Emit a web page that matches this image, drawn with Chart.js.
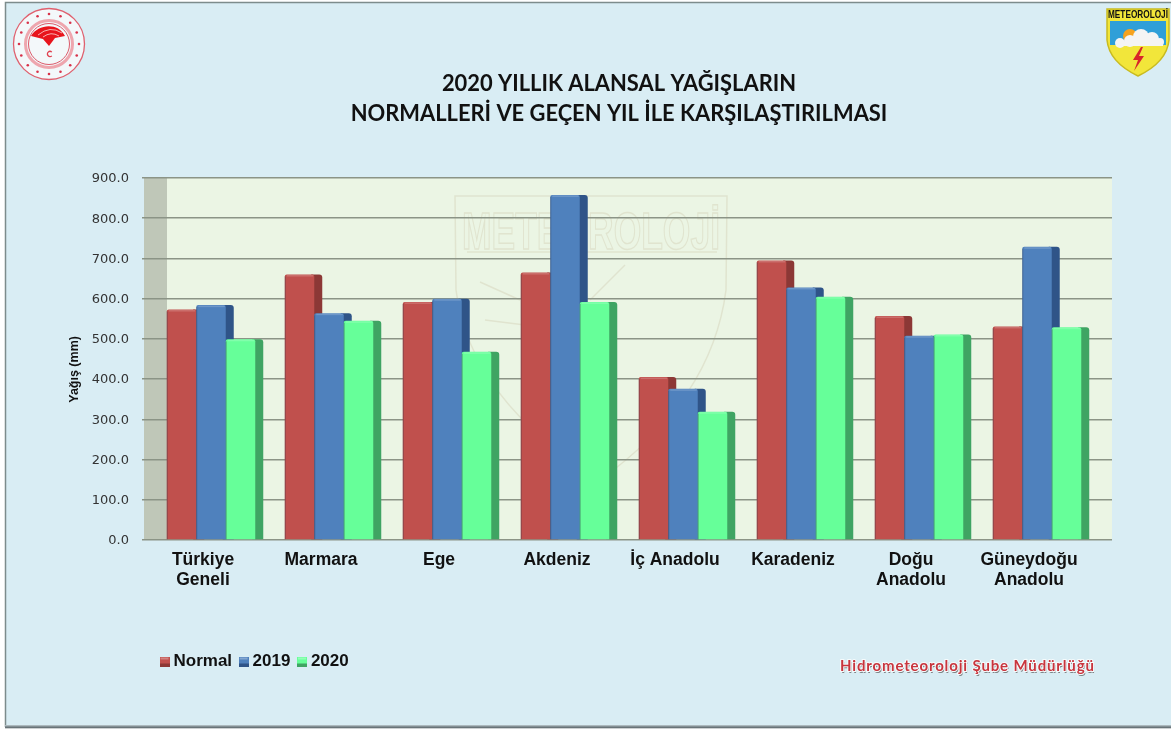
<!DOCTYPE html>
<html lang="tr">
<head>
<meta charset="utf-8">
<title>2020 Yıllık Alansal Yağışlar</title>
<script src="https://cdn.jsdelivr.net/npm/chart.js@4"></script>
<style>
html,body{margin:0;padding:0;background:#fff;overflow:hidden}
#wrap{width:1171px;height:729px;position:relative}
canvas{display:block}
</style>
</head>
<body>
<div id="wrap"><canvas id="c" width="1171" height="729"></canvas></div>
<script>
const categories = [["Türkiye","Geneli"],"Marmara","Ege","Akdeniz","İç Anadolu","Karadeniz",["Doğu","Anadolu"],["Güneydoğu","Anadolu"]];
const normalValues = [573, 660, 592, 665, 405, 695, 557, 531];
const values2019 = [584, 564, 600, 858, 376, 628, 508, 729];
const values2020 = [499, 545, 468, 592, 319, 605, 511, 529];
const seriesNames = ["Normal","2019","2020"];
const frontColors = ["#c0504d","#4f81bd","#66ff99"];
const sideColors = ["#8c3836","#2f5488","#3fa463"];
const titleLines = ["2020 YILLIK ALANSAL YAĞIŞLARIN","NORMALLERİ VE GEÇEN YIL İLE KARŞILAŞTIRILMASI"];
const yAxisTitle = "Yağış (mm)";
const footerText = "Hidrometeoroloji Şube Müdürlüğü";
const badgeText = "METEOROLOJİ";

const DEPTH = 8, BACK = 24;

function legendMarker(color, side){
  const m=document.createElement("canvas");
  m.width=10;m.height=10;
  const c=m.getContext("2d");
  c.fillStyle=color;c.fillRect(0,0,10,10);
  c.fillStyle=side;c.fillRect(0,7,10,3);
  c.fillStyle="rgba(255,255,255,.3)";c.fillRect(1,1,8,2);
  return m;
}
const legendMarkers=frontColors.map((c,i)=>legendMarker(c,sideColors[i]));

function drawSeal(ctx){
  const cx=49,cy=44;
  ctx.save();
  ctx.strokeStyle="#e0606e";
  ctx.lineWidth=1.3;
  ctx.fillStyle="#f3f8fa";
  ctx.beginPath();ctx.arc(cx,cy,35.5,0,Math.PI*2);ctx.fill();ctx.stroke();
  ctx.fillStyle="#d8324a";
  for(let i=0;i<16;i++){
    const a=i/16*Math.PI*2;
    ctx.beginPath();ctx.arc(cx+30*Math.cos(a),cy+30*Math.sin(a),1.3,0,Math.PI*2);ctx.fill();
  }
  ctx.lineWidth=3;ctx.strokeStyle="#eea6ae";
  ctx.beginPath();ctx.arc(cx,cy,23.5,0,Math.PI*2);ctx.stroke();
  ctx.lineWidth=1;ctx.strokeStyle="#dc5a6a";
  ctx.beginPath();ctx.arc(cx,cy,20.5,0,Math.PI*2);ctx.stroke();
  ctx.fillStyle="#e8141c";
  ctx.beginPath();
  ctx.moveTo(31,36);
  ctx.bezierCurveTo(38,24,58,22,65,36);
  ctx.lineTo(55,38);ctx.lineTo(49,46);ctx.lineTo(43,39);
  ctx.closePath();ctx.fill();
  ctx.strokeStyle="#f8b0b0";ctx.lineWidth=1;
  ctx.beginPath();ctx.moveTo(38,35);ctx.quadraticCurveTo(50,25,62,33);ctx.stroke();
  ctx.beginPath();ctx.moveTo(43,37);ctx.quadraticCurveTo(51,31,59,36);ctx.stroke();
  ctx.strokeStyle="#e0404e";ctx.lineWidth=1.3;
  ctx.beginPath();ctx.arc(50,54,2.6,0.8,Math.PI*2-0.8,false);ctx.stroke();
  ctx.restore();
}

function drawBadge(ctx){
  ctx.save();
  const shield=()=>{
    ctx.beginPath();
    ctx.moveTo(1107,9);ctx.lineTo(1169,9);ctx.lineTo(1169,40);
    ctx.quadraticCurveTo(1167,62,1138,76);
    ctx.quadraticCurveTo(1109,62,1107,40);
    ctx.closePath();
  };
  shield();ctx.fillStyle="#f2e63a";ctx.fill();
  ctx.save();shield();ctx.clip();
  ctx.fillStyle="#2f9fd8";ctx.fillRect(1110,21,56,24);
  ctx.fillStyle="#f6a21e";
  ctx.beginPath();ctx.arc(1130,36,7,0,Math.PI*2);ctx.fill();
  ctx.fillStyle="#f4f4f4";
  [[1120,43,5],[1130,41,6],[1141,37,8],[1152,39,7],[1160,42,4]].forEach(p=>{ctx.beginPath();ctx.arc(p[0],p[1],p[2],0,Math.PI*2);ctx.fill();});
  ctx.fillRect(1116,42,47,4);
  ctx.restore();
  ctx.fillStyle="#d8262a";
  ctx.beginPath();ctx.moveTo(1141,47);ctx.lineTo(1133,60);ctx.lineTo(1138,60);ctx.lineTo(1134,71);ctx.lineTo(1144,56);ctx.lineTo(1139,56);ctx.lineTo(1143,47);ctx.closePath();ctx.fill();
  shield();ctx.strokeStyle="#c9bb20";ctx.lineWidth=1.5;ctx.stroke();
  ctx.fillStyle="#111";
  ctx.font="bold 11px 'Liberation Sans Narrow','Liberation Sans'";
  ctx.textAlign="center";ctx.textBaseline="middle";
  ctx.fillText(badgeText,1138,15,60);
  ctx.restore();
}

function drawWatermark(ctx){
  ctx.save();
  ctx.strokeStyle="#e0e4cf";
  ctx.lineWidth=1.5;
  ctx.beginPath();
  ctx.moveTo(455,196);ctx.lineTo(727,196);ctx.lineTo(726,290);
  ctx.quadraticCurveTo(712,400,600,480);
  ctx.quadraticCurveTo(470,400,456,290);
  ctx.closePath();ctx.stroke();
  ctx.beginPath();ctx.moveTo(467,252);ctx.lineTo(717,252);ctx.stroke();
  for(const r of [[480,282,520,300],[485,320,525,325],[625,265,590,300]]){
    ctx.beginPath();ctx.moveTo(r[0],r[1]);ctx.lineTo(r[2],r[3]);ctx.stroke();
  }
  ctx.translate(591,249);
  ctx.scale(1,1.4);
  ctx.font="bold 37px 'Liberation Sans Narrow','Liberation Sans'";
  ctx.textAlign="center";ctx.textBaseline="alphabetic";
  ctx.lineWidth=1;
  ctx.strokeText(badgeText,0,0,258);
  ctx.restore();
}

const decorPlugin = {
  id:"decor",
  afterLayout(chart){
    const t=chart.titleBlock;
    if(t){t.left+=75;t.right+=75;}
    const l=chart.legend;
    if(l){l.left=153;l.top=642;}
  },
  beforeDraw(chart){
    const {ctx,chartArea:a}=chart;
    ctx.save();
    ctx.fillStyle="#ffffff";ctx.fillRect(0,0,1171,729);
    ctx.fillStyle="#d9edf4";ctx.fillRect(5,2,1166,725);
    ctx.strokeStyle="#7d8c8c";ctx.lineWidth=1.5;
    ctx.beginPath();ctx.moveTo(5.5,727);ctx.lineTo(5.5,2.5);ctx.lineTo(1171,2.5);ctx.stroke();
    const g=ctx.createLinearGradient(0,725,0,729);
    g.addColorStop(0,"#c0cdd2");g.addColorStop(.6,"#5f6b6f");g.addColorStop(1,"#ffffff");
    ctx.fillStyle=g;ctx.fillRect(5,725,1166,4);
    drawSeal(ctx);drawBadge(ctx);
    ctx.fillStyle="#bfc7b8";ctx.fillRect(a.left,a.top,BACK-1,a.bottom-a.top);
    ctx.fillStyle="#ebf5e4";ctx.fillRect(a.left+BACK-1,a.top,a.right-a.left+1,a.bottom-a.top);
    drawWatermark(ctx);
    ctx.restore();
  },
  beforeDatasetsDraw(chart){
    const {ctx,chartArea:a,scales:{y}}=chart;
    ctx.save();
    ctx.strokeStyle="#8b9486";ctx.lineWidth=1.5;
    y.ticks.forEach(t=>{
      const py=Math.round(y.getPixelForValue(t.value)-.75)+.75;
      ctx.beginPath();ctx.moveTo(a.right,py);ctx.lineTo(a.right+BACK,py);ctx.stroke();
    });
    ctx.restore();
    ctx.save();
    ctx.translate(DEPTH,0);
    // left-to-right, so each bar covers the side face of its left neighbour
    seriesNames.forEach((n,i)=>{
      const meta=chart.getDatasetMeta(i);
      ctx.fillStyle=sideColors[i];
      meta.data.forEach(b=>{
        const p=b.getProps(["x","y","base","width"],true);
        const r=p.x+p.width/2;
        ctx.beginPath();
        ctx.roundRect(r-3,p.y,DEPTH+3,p.base-p.y,[0,3,0,0]);
        ctx.fill();
      });
      meta.controller.draw();
      meta.data.forEach(b=>{
        const p=b.getProps(["x","y","base","width"],true);
        const l=p.x-p.width/2;
        ctx.fillStyle="rgba(255,255,255,.18)";
        ctx.fillRect(l+2,p.y+.5,p.width-3,1.5);
        ctx.fillStyle="rgba(40,50,70,.35)";
        ctx.fillRect(l,p.y+2,1,p.base-p.y-2);
      });
    });
    ctx.restore();
    return false;
  },
  afterDraw(chart){
    const {ctx}=chart;
    ctx.save();
    ctx.font="bold 15px Lato";
    ctx.letterSpacing="0.85px";
    ctx.textAlign="left";ctx.textBaseline="middle";
    ctx.fillStyle="rgba(90,90,90,.7)";ctx.fillText(footerText,841,668);
    ctx.strokeStyle="#f6fbfc";ctx.lineWidth=2;ctx.strokeText(footerText,840,666);
    ctx.fillStyle="#c8353d";ctx.fillText(footerText,840,666);
    ctx.restore();
  }
};

const seriesValues=[normalValues,values2019,values2020];
new Chart(document.getElementById("c"),{
  type:"bar",
  plugins:[decorPlugin],
  data:{
    labels:categories,
    datasets:seriesNames.map((n,i)=>({
      label:n,
      data:seriesValues[i],
      backgroundColor:frontColors[i],
      borderRadius:{topLeft:2,topRight:2,bottomLeft:0,bottomRight:0},
      borderSkipped:false,
      clip:false,
      categoryPercentage:0.75,
      barPercentage:1
    }))
  },
  options:{
    responsive:false,
    animation:false,
    layout:{padding:{top:0,left:0,right:83,bottom:29}},
    plugins:{
      tooltip:{enabled:false},
      title:{
        display:true,
        text:titleLines,
        color:"#111111",
        font:{family:"Lato",size:21.9,weight:"bold",lineHeight:1.37},
        padding:{top:69,bottom:49}
      },
      legend:{
        display:true,
        position:"bottom",
        align:"start",
        labels:{
          usePointStyle:true,
          pointStyleWidth:1,
          boxHeight:10,
          padding:11,
          color:"#111111",
          font:{family:"Liberation Sans",size:17,weight:"bold"},
          generateLabels(chart){
            return Chart.defaults.plugins.legend.labels.generateLabels(chart).map((it,i)=>({...it,pointStyle:legendMarkers[i]}));
          }
        }
      }
    },
    scales:{
      x:{
        afterFit(s){s.height=122;},
        grid:{display:false},
        border:{display:false},
        ticks:{
          autoSkip:false,maxRotation:0,minRotation:0,padding:3,
          color:"#111111",
          font:{family:"Liberation Sans",size:17.5,weight:"bold",lineHeight:1.1}
        }
      },
      y:{
        min:0,max:900,
        afterFit(s){s.width=144;},
        border:{display:false},
        grid:{color:"#8b9486",lineWidth:1.5,tickLength:2,drawTicks:true,tickColor:"#8b9486"},
        title:{
          display:true,
          text:yAxisTitle+"      ",
          color:"#111111",
          font:{family:"Liberation Sans",size:12.5,weight:"bold"},
          padding:{top:67,bottom:0}
        },
        ticks:{
          stepSize:100,padding:13,labelOffset:1,
          color:"#333333",
          font:{family:"DejaVu Sans",size:13},
          callback(v){return Number(v).toFixed(1);}
        }
      }
    }
  }
});
</script>
</body>
</html>
